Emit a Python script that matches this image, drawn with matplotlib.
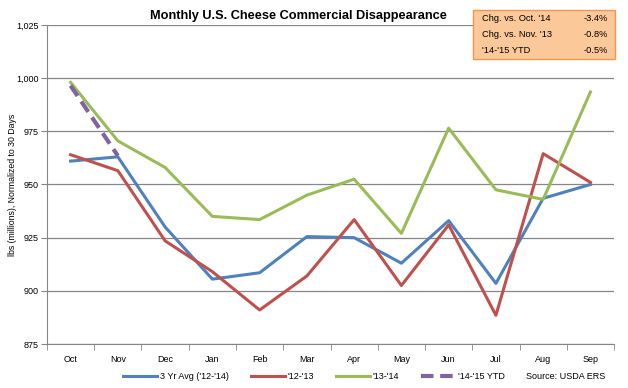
from matplotlib import pyplot as plt
from matplotlib.patches import FancyBboxPatch
import numpy as np

months = ['Oct', 'Nov', 'Dec', 'Jan', 'Feb', 'Mar', 'Apr', 'May', 'Jun', 'Jul', 'Aug', 'Sep']
avg_12_14 = [961, 963, 930, 905.5, 908.5, 925.5, 925, 913, 933, 903.5, 943.5, 950]
yr_12_13 = [964, 956.5, 923.5, 909, 891, 907, 933.5, 902.5, 931, 888.5, 964.5, 951]
yr_13_14 = [998, 970.5, 958, 935, 933.5, 945, 952.5, 927, 976.5, 947.5, 943, 993.5]
yr_14_15 = [996.5, 963.5]

box_labels = ["Chg. vs. Oct. '14", "Chg. vs. Nov. '13", "'14-'15 YTD"]
box_values = ['-3.4%', '-0.8%', '-0.5%']

plt.rcParams['font.family'] = ['Liberation Sans', 'DejaVu Sans']

fig = plt.figure(figsize=(6.28, 3.88), dpi=100)
ax = fig.add_axes([0.0748, 0.1134, 0.903, 0.8222])

x = np.arange(len(months))
ax.plot(x, avg_12_14, color='#4F81BD', lw=2.2, label="3 Yr Avg ('12-'14)")
ax.plot(x, yr_12_13, color='#C0504D', lw=2.2, label="'12-'13")
ax.plot(x, yr_13_14, color='#9BBB59', lw=2.2, label="'13-'14")
ax.plot(x[:len(yr_14_15)], yr_14_15, color='#8064A2', lw=3, ls=(0, (3, 1.6)),
        label="'14-'15 YTD")

ax.set_xlim(-0.5, len(months) - 0.5)
ax.set_ylim(875, 1025)
ax.set_yticks(np.arange(875, 1026, 25))
ax.set_yticklabels(['{:,}'.format(v) for v in range(875, 1026, 25)], fontsize=6.5)
ax.set_xticks(x)
ax.set_xticklabels(months, fontsize=6.5)
ax.set_xticks(np.arange(-0.5, len(months), 1), minor=True)
ax.tick_params(axis='x', which='major', length=0, pad=8)
ax.tick_params(axis='x', which='minor', length=4, color='#868686', direction='out')
ax.tick_params(axis='y', length=4, color='#868686', direction='out', pad=2)
ax.grid(axis='y', color='#868686', lw=0.9)
ax.set_axisbelow(True)
for s in ['top', 'right']:
    ax.spines[s].set_visible(False)
for s in ['left', 'bottom']:
    ax.spines[s].set_color('#868686')
ax.set_ylabel('lbs (millions), Normalized to 30 Days', fontsize=6.3)
ax.yaxis.set_label_coords(-0.052, 0.5)

fig.text(0.476, 0.958, 'Monthly U.S. Cheese Commercial Disappearance', fontsize=9.2,
         fontweight='bold', ha='center', va='center')

leg = fig.legend(loc='center', bbox_to_anchor=(0.5, 0.03), ncol=4, frameon=False,
                 fontsize=6.5, handlelength=3.8, handletextpad=0.3, columnspacing=2.4)
fig.text(0.963, 0.03, 'Source: USDA ERS', fontsize=6.5, ha='right', va='center')

box = FancyBboxPatch((0.753, 0.848), 0.227, 0.125, boxstyle='square,pad=0',
                     transform=fig.transFigure, facecolor='#FBC89A', edgecolor='#F79646',
                     lw=1)
fig.patches.append(box)
for i, (lab, val) in enumerate(zip(box_labels, box_values)):
    yy = 0.953 - i * 0.042
    fig.text(0.768, yy, lab, fontsize=6.7, ha='left', va='center')
    fig.text(0.968, yy, val, fontsize=6.7, ha='right', va='center')

fig.savefig('out.png', dpi=100)
